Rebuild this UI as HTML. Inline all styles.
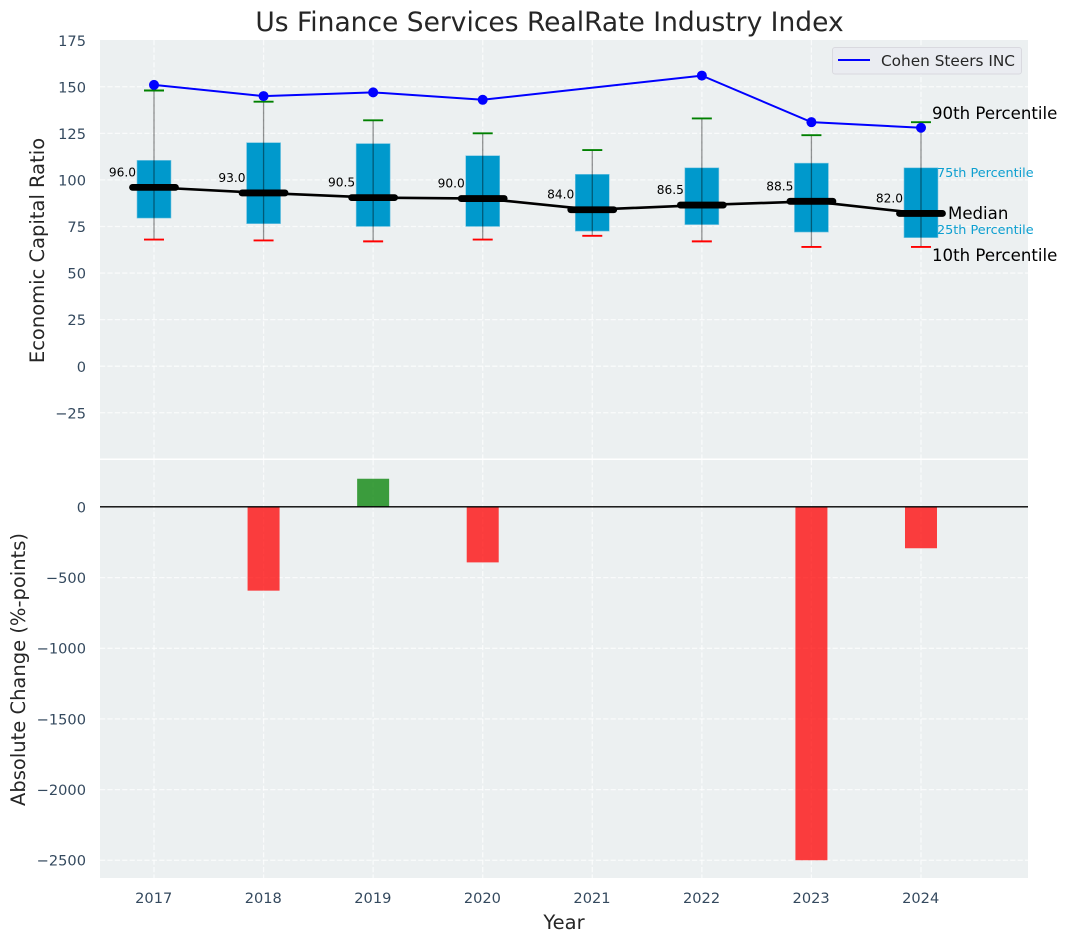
<!DOCTYPE html>
<html>
<head>
<meta charset="utf-8">
<style>
html,body{margin:0;padding:0;background:#fff;width:1067px;height:942px;overflow:hidden}
svg{display:block;font-family:"DejaVu Sans","Liberation Sans",sans-serif}
</style>
</head>
<body>
<svg id="chart" xmlns="http://www.w3.org/2000/svg" width="1067" height="942" viewBox="0 0 1067 942">
  <rect x="100" y="40" width="928" height="418.5" fill="#ecf0f1"/>
  <rect x="100" y="460" width="928" height="418" fill="#ecf0f1"/>
  <g id="grid"></g>
  <g id="bars"></g>
  <line x1="100" x2="1028" y1="506.8" y2="506.8" stroke="#000" stroke-width="1.3"/>
  <g id="boxes"></g>
  <g id="series"></g>
  <g id="ticks"></g>
  <text x="549.5" y="31" text-anchor="middle" font-size="26.5" fill="#262626">Us Finance Services RealRate Industry Index</text>
  <text transform="translate(44,250.5) rotate(-90)" text-anchor="middle" font-size="19.5" fill="#262626">Economic Capital Ratio</text>
  <text transform="translate(25,669.5) rotate(-90)" text-anchor="middle" font-size="19.5" fill="#262626">Absolute Change (%-points)</text>
  <text x="564" y="929" text-anchor="middle" font-size="19.5" fill="#262626">Year</text>
  <g>
    <rect x="832.5" y="47.5" width="189" height="26.5" rx="2.5" fill="#eaecf1" stroke="#d9d9df"/>
    <line x1="838" x2="870" y1="60" y2="60" stroke="#0000ff" stroke-width="2"/>
    <text x="881" y="66" font-size="15.3" fill="#262626">Cohen Steers INC</text>
  </g>
  <text x="932" y="119" font-size="16.6" fill="#000">90th Percentile</text>
  <text x="937" y="177" font-size="12.8" fill="#0d9fd0">75th Percentile</text>
  <text x="948" y="219" font-size="16.6" fill="#000">Median</text>
  <text x="937" y="234" font-size="12.8" fill="#0d9fd0">25th Percentile</text>
  <text x="932" y="261" font-size="16.6" fill="#000">10th Percentile</text>
</svg>
<script>
const years = [2017, 2018, 2019, 2020, 2021, 2022, 2023, 2024];
const medians = [96, 93, 90.5, 90, 84, 86.5, 88.5, 82];
const q1Values = [79.5, 76.5, 75, 75, 72.5, 76, 72, 69];
const q3Values = [110.5, 120, 119.5, 113, 103, 106.5, 109, 106.5];
const p10Values = [68, 67.5, 67, 68, 70, 67, 64, 64];
const p90Values = [148, 142, 132, 125, 116, 133, 124, 131];
const companyValues = [151, 145, 147, 143, null, 156, 131, 128];
const changeValues = [0, -592, 200, -392, 0, 0, -2500, -292];
const upperTicks = [175, 150, 125, 100, 75, 50, 25, 0, -25];
const lowerTicks = [0, -500, -1000, -1500, -2000, -2500];

const svgNS = 'http://www.w3.org/2000/svg';
const xScale = function (year) { return 154 + (year - 2017) * 109.57; };
const yUpper = function (v) { return 366.2 - v * 1.8629; };
const yLower = function (v) { return 507 - v * 0.1413; };
const fmt = function (v) { return String(v).replace('-', '\u2212'); };

function make(tag, parent, attrs) {
  const el = document.createElementNS(svgNS, tag);
  for (const k in attrs) el.setAttribute(k, attrs[k]);
  parent.appendChild(el);
  return el;
}

const gridG = document.getElementById('grid');
const barsG = document.getElementById('bars');
const boxesG = document.getElementById('boxes');
const seriesG = document.getElementById('series');
const ticksG = document.getElementById('ticks');
const gridStyle = { stroke: '#ffffff', 'stroke-width': 1.3, 'stroke-opacity': 0.7, 'stroke-dasharray': '5.2 2.2', fill: 'none' };

upperTicks.forEach(function (t) {
  const y = yUpper(t);
  if (y > 41) {
    const gl = make('line', gridG, Object.assign({ x1: 100, x2: 1028, y1: y, y2: y }, gridStyle));
    
    
  }
  const lab = make('text', ticksG, { x: 86, y: y + 5.6, 'text-anchor': 'end', 'font-size': 14.6, fill: '#34495e' });
  lab.textContent = fmt(t);
  
  
});

lowerTicks.forEach(function (t) {
  const y = yLower(t);
  const gl = make('line', gridG, Object.assign({ x1: 100, x2: 1028, y1: y, y2: y }, gridStyle));
  
  
  const lab = make('text', ticksG, { x: 86, y: y + 5.3, 'text-anchor': 'end', 'font-size': 14.6, fill: '#34495e' });
  lab.textContent = fmt(t);
  
  
});

years.forEach(function (yr) {
  const x = xScale(yr);
  const g1 = make('line', gridG, Object.assign({ x1: x, x2: x, y1: 40, y2: 458.5 }, gridStyle));
  
  
  const g2 = make('line', gridG, Object.assign({ x1: x, x2: x, y1: 460, y2: 878 }, gridStyle));
  
  
  const lab = make('text', ticksG, { x: x - 0.3, y: 903, 'text-anchor': 'middle', 'font-size': 14.6, fill: '#34495e' });
  lab.textContent = String(yr);
  
  
});

changeValues.forEach(function (v, i) {
  if (v === 0) return;
  const x = xScale(years[i]);
  const top = Math.min(yLower(v), yLower(0));
  const bar = make('rect', barsG, {
    x: x - 16, y: top, width: 32, height: Math.abs(yLower(v) - yLower(0)),
    fill: v > 0 ? '#008000' : '#ff0000', 'fill-opacity': 0.75
  });
  
  
});

years.forEach(function (yr, i) {
  const x = xScale(yr);
  const box = make('rect', boxesG, {
    x: x - 17, y: yUpper(q3Values[i]), width: 34, height: yUpper(q1Values[i]) - yUpper(q3Values[i]),
    fill: '#0099cc', stroke: '#7cc6e2', 'stroke-width': 0.6
  });
  
  
  const whisker = make('line', boxesG, {
    x1: x, x2: x, y1: yUpper(p90Values[i]), y2: yUpper(p10Values[i]),
    stroke: '#000', 'stroke-opacity': 0.42, 'stroke-width': 1.3
  });
  
  
  const capHigh = make('line', boxesG, {
    x1: x - 10, x2: x + 10, y1: yUpper(p90Values[i]), y2: yUpper(p90Values[i]),
    stroke: '#008000', 'stroke-width': 1.9
  });
  
  
  const capLow = make('line', boxesG, {
    x1: x - 10, x2: x + 10, y1: yUpper(p10Values[i]), y2: yUpper(p10Values[i]),
    stroke: '#ff0000', 'stroke-width': 1.9
  });
  
  
});

const medianPoints = years.map(function (yr, i) { return xScale(yr) + ',' + yUpper(medians[i]); }).join(' ');
const medianLine = make('polyline', seriesG, { points: medianPoints, fill: 'none', stroke: '#000', 'stroke-width': 2.6 });



years.forEach(function (yr, i) {
  const x = xScale(yr);
  const y = yUpper(medians[i]);
  const bar = make('line', seriesG, {
    x1: x - 21.5, x2: x + 21.5, y1: y, y2: y, stroke: '#000', 'stroke-width': 6.8, 'stroke-linecap': 'round'
  });
  
  
  const lab = make('text', seriesG, { x: x - 18, y: y - 11, 'text-anchor': 'end', 'font-size': 12.2, fill: '#000' });
  lab.textContent = medians[i].toFixed(1);
  
  
});

const companyIdx = years.map(function (_, i) { return i; }).filter(function (i) { return companyValues[i] !== null; });
const companyPoints = companyIdx.map(function (i) { return xScale(years[i]) + ',' + yUpper(companyValues[i]); }).join(' ');
const companyLine = make('polyline', seriesG, { points: companyPoints, fill: 'none', stroke: '#0000ff', 'stroke-width': 2 });


companyIdx.forEach(function (i) {
  const dot = make('circle', seriesG, { cx: xScale(years[i]), cy: yUpper(companyValues[i]), r: 5, fill: '#0000ff' });
  
  
});
</script>
</body>
</html>
